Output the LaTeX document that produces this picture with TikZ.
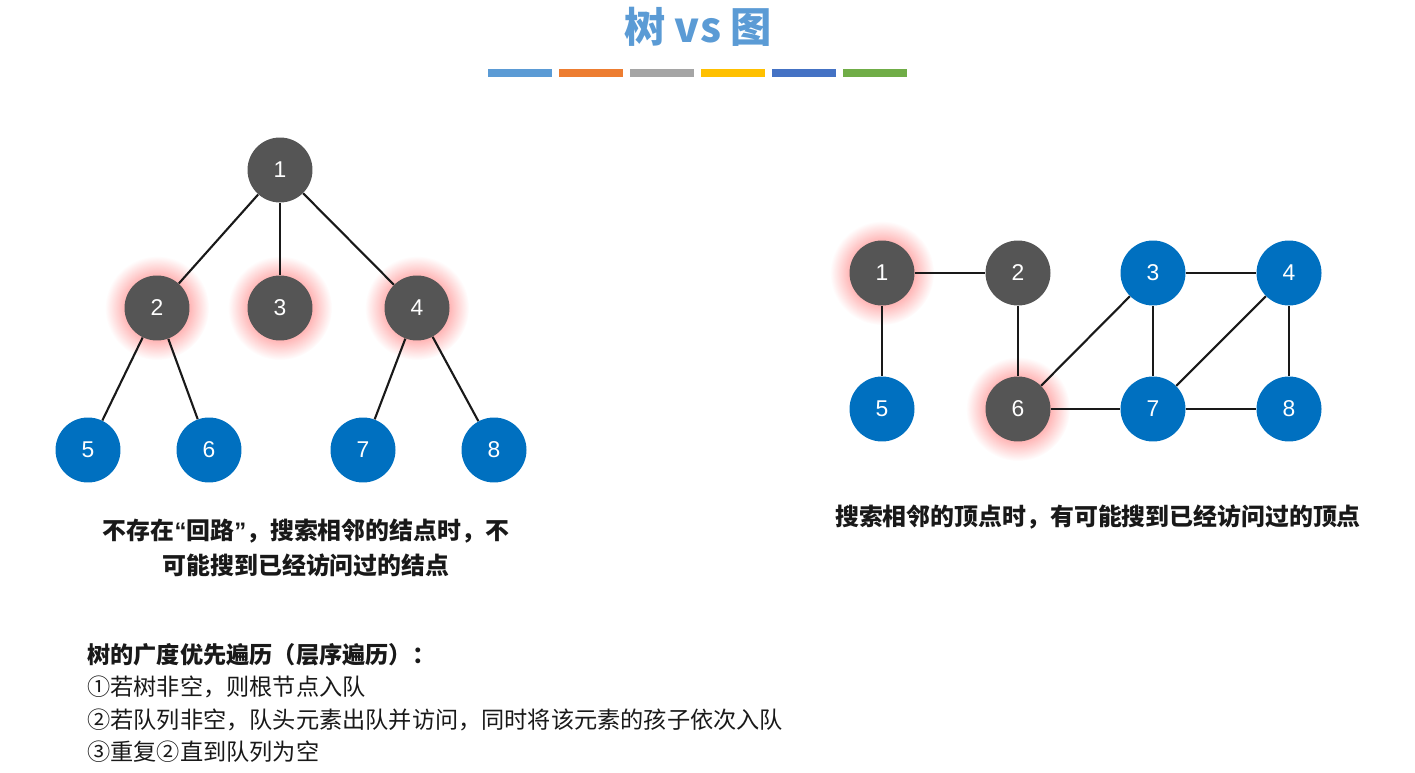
\documentclass[tikz,border=0pt]{standalone}
\usepackage{fontspec}
\setmainfont{Noto Sans CJK SC}
\setsansfont{Liberation Sans}
\usetikzlibrary{positioning,shadows,fadings}
\definecolor{vgrey}{RGB}{85,85,85}
\definecolor{vblue}{RGB}{0,112,192}
\definecolor{ttl}{RGB}{91,155,213}
\definecolor{barA}{RGB}{91,155,213}
\definecolor{barB}{RGB}{237,125,49}
\definecolor{barC}{RGB}{165,165,165}
\definecolor{barD}{RGB}{255,192,0}
\definecolor{barE}{RGB}{68,114,196}
\definecolor{barF}{RGB}{112,173,71}
\tikzfading[name=glowfade,inner color=transparent!0,outer color=transparent!100]

\begin{document}
\begin{tikzpicture}[x=0.02cm,y=-0.02cm,
  vtx/.style={circle,minimum size=1.3cm,inner sep=0pt,text=white,
              font=\sffamily\fontsize{13}{14}\selectfont},
  gv/.style={vtx,fill=vgrey},
  bv/.style={vtx,fill=vblue},
  glow/.style={general shadow={fill=red!75,shadow scale=1.6,path fading=glowfade}},
  edge/.style={line width=1.2pt,draw=black!90},
  captxt/.style={font=\bfseries\fontsize{13.6}{20}\selectfont,align=center,text=black!90},
  bar/.style={line width=4.5pt}]

\useasboundingbox (0,0) rectangle (1415,773);

\node[font=\bfseries\fontsize{23.5}{26}\selectfont,text=ttl] (title) at (698,27) {树 vs 图};
\foreach \c [count=\i] in {barA,barB,barC,barD,barE,barF}
  \draw[bar,draw=\c] ({488+71*(\i-1)},73) -- ++(64,0);

\node[gv] (t1) at (280,170) {1};
\node[gv,glow] (t2) at (157,308) {2};
\node[gv,glow] (t3) at (280,308) {3};
\node[gv,glow] (t4) at (417,308) {4};
\node[bv] (t5) at (88,450) {5};
\node[bv] (t6) at (209,450) {6};
\node[bv] (t7) at (363,450) {7};
\node[bv] (t8) at (494,450) {8};
\foreach \a/\b in {t1/t2,t1/t3,t1/t4,t2/t5,t2/t6,t4/t7,t4/t8}
  \draw[edge] (\a) -- (\b);

\node[gv,glow] (g1) at (882,273) {1};
\node[gv] (g2) at (1018,273) {2};
\node[bv] (g3) at (1153,273) {3};
\node[bv] (g4) at (1289,273) {4};
\node[bv] (g5) at (882,409) {5};
\node[gv,glow] (g6) at (1018,409) {6};
\node[bv] (g7) at (1153,409) {7};
\node[bv] (g8) at (1289,409) {8};
\foreach \a/\b in {g1/g2,g1/g5,g2/g6,g6/g3,g6/g7,g3/g4,g3/g7,g7/g4,g4/g8,g7/g8}
  \draw[edge] (\a) -- (\b);

\node[captxt] (tcap) at (306,548)
  {不存在{\sffamily\bfseries“}回路{\sffamily\bfseries”}，搜索相邻的结点时，不\\可能搜到已经访问过的结点};
\node[captxt] (gcap) at (1098,517) {搜索相邻的顶点时，有可能搜到已经访问过的顶点};

\node[anchor=north west,align=left,inner sep=0pt,text=black!90,
      font=\fontsize{13.2}{18.4}\selectfont] (bfs) at (87,643)
  {\textbf{树的广度优先遍历（层序遍历）：}\\
   ①若树非空，则根节点入队\\
   ②若队列非空，队头元素出队并访问，同时将该元素的孩子依次入队\\
   ③重复②直到队列为空};
\end{tikzpicture}
\end{document}
